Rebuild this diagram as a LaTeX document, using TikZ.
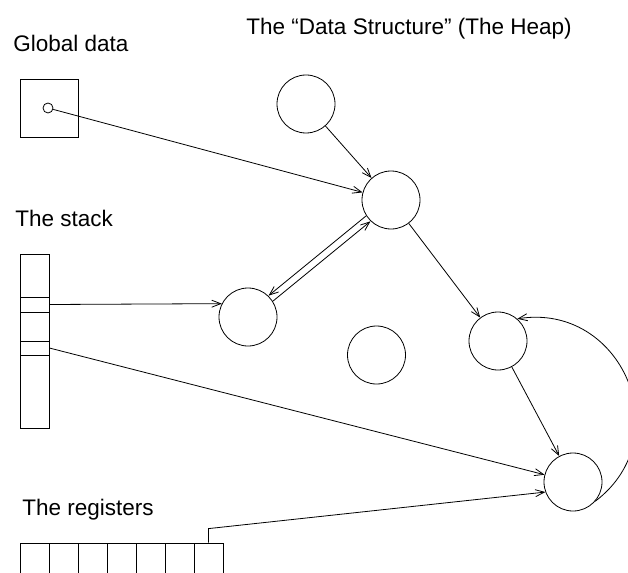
\documentclass[tikz,border=0pt]{standalone}
\usepackage{fontspec}
\setmainfont{Liberation Sans}
\usetikzlibrary{arrows.meta,calc}
\begin{document}
\begin{tikzpicture}[x=1pt,y=-1pt,
  line width=0.8pt,
  heap/.style={circle,draw,minimum size=58pt,inner sep=0pt},
  cell/.style={rectangle,draw,inner sep=0pt,minimum width=29pt},
  lbl/.style={anchor=base west,inner sep=0pt,font=\fontsize{22.5}{27}\selectfont},
  arr/.style={-{Straight Barb[length=9pt,width=7pt]}}]
\useasboundingbox (0,0) rectangle (628,572);
\clip (0,0) rectangle (628,572);
% labels
\node[lbl] (tglob) at (13,52) {Global data};
\node[lbl] (tstack) at (15,226) {The stack};
\node[lbl] (treg) at (22,515) {The registers};
\node[lbl,anchor=base east] (theap) at (572,35) {The “Data Structure” (The Heap)};
% global data
\node[rectangle,draw,minimum size=58pt,inner sep=0pt] (gbox) at (49,108) {};
\node[circle,draw,minimum size=10pt,inner sep=0pt] (gc) at (48,108) {};
% stack
\node[cell,minimum height=174pt] (stack) at (34.5,341) {};
\node[cell,minimum height=15pt] (s1) at (34.5,304.5) {};
\node[cell,minimum height=14pt] (s2) at (34.5,348) {};
% registers
\foreach \i in {1,...,7}{
  \node[cell,minimum height=40pt] (r\i) at ({34.5+29*(\i-1)},563) {};
}
% heap
\node[heap] (A) at (306,104) {};
\node[heap] (B) at (391,200) {};
\node[heap] (C) at (248,317) {};
\node[heap] (D) at (376.5,355) {};
\node[heap] (E) at (498,341) {};
\node[heap] (F) at (573,482) {};
% connectors
\draw[arr] (gc) -- (B);
\draw[arr] (A) -- (B);
\draw[arr,transform canvas={shift={(-2.2pt,2.7pt)}}] (B) -- (C);
\draw[arr,transform canvas={shift={(2.2pt,-2.7pt)}}] (C) -- (B);
\draw[arr] (B) -- (E);
\draw[arr] (E) -- (F);
\draw[arr] (F.-41) to[out=37,in=9,distance=106pt] (E.49);
\draw[arr] (s1.east) -- (C.153);
\draw[arr] (s2.east) -- (F);
\coordinate (rk) at ([yshift=14pt]r7.north);
\draw[arr] (r7.north) -- (rk) -- (F.200);
\end{tikzpicture}
\end{document}
